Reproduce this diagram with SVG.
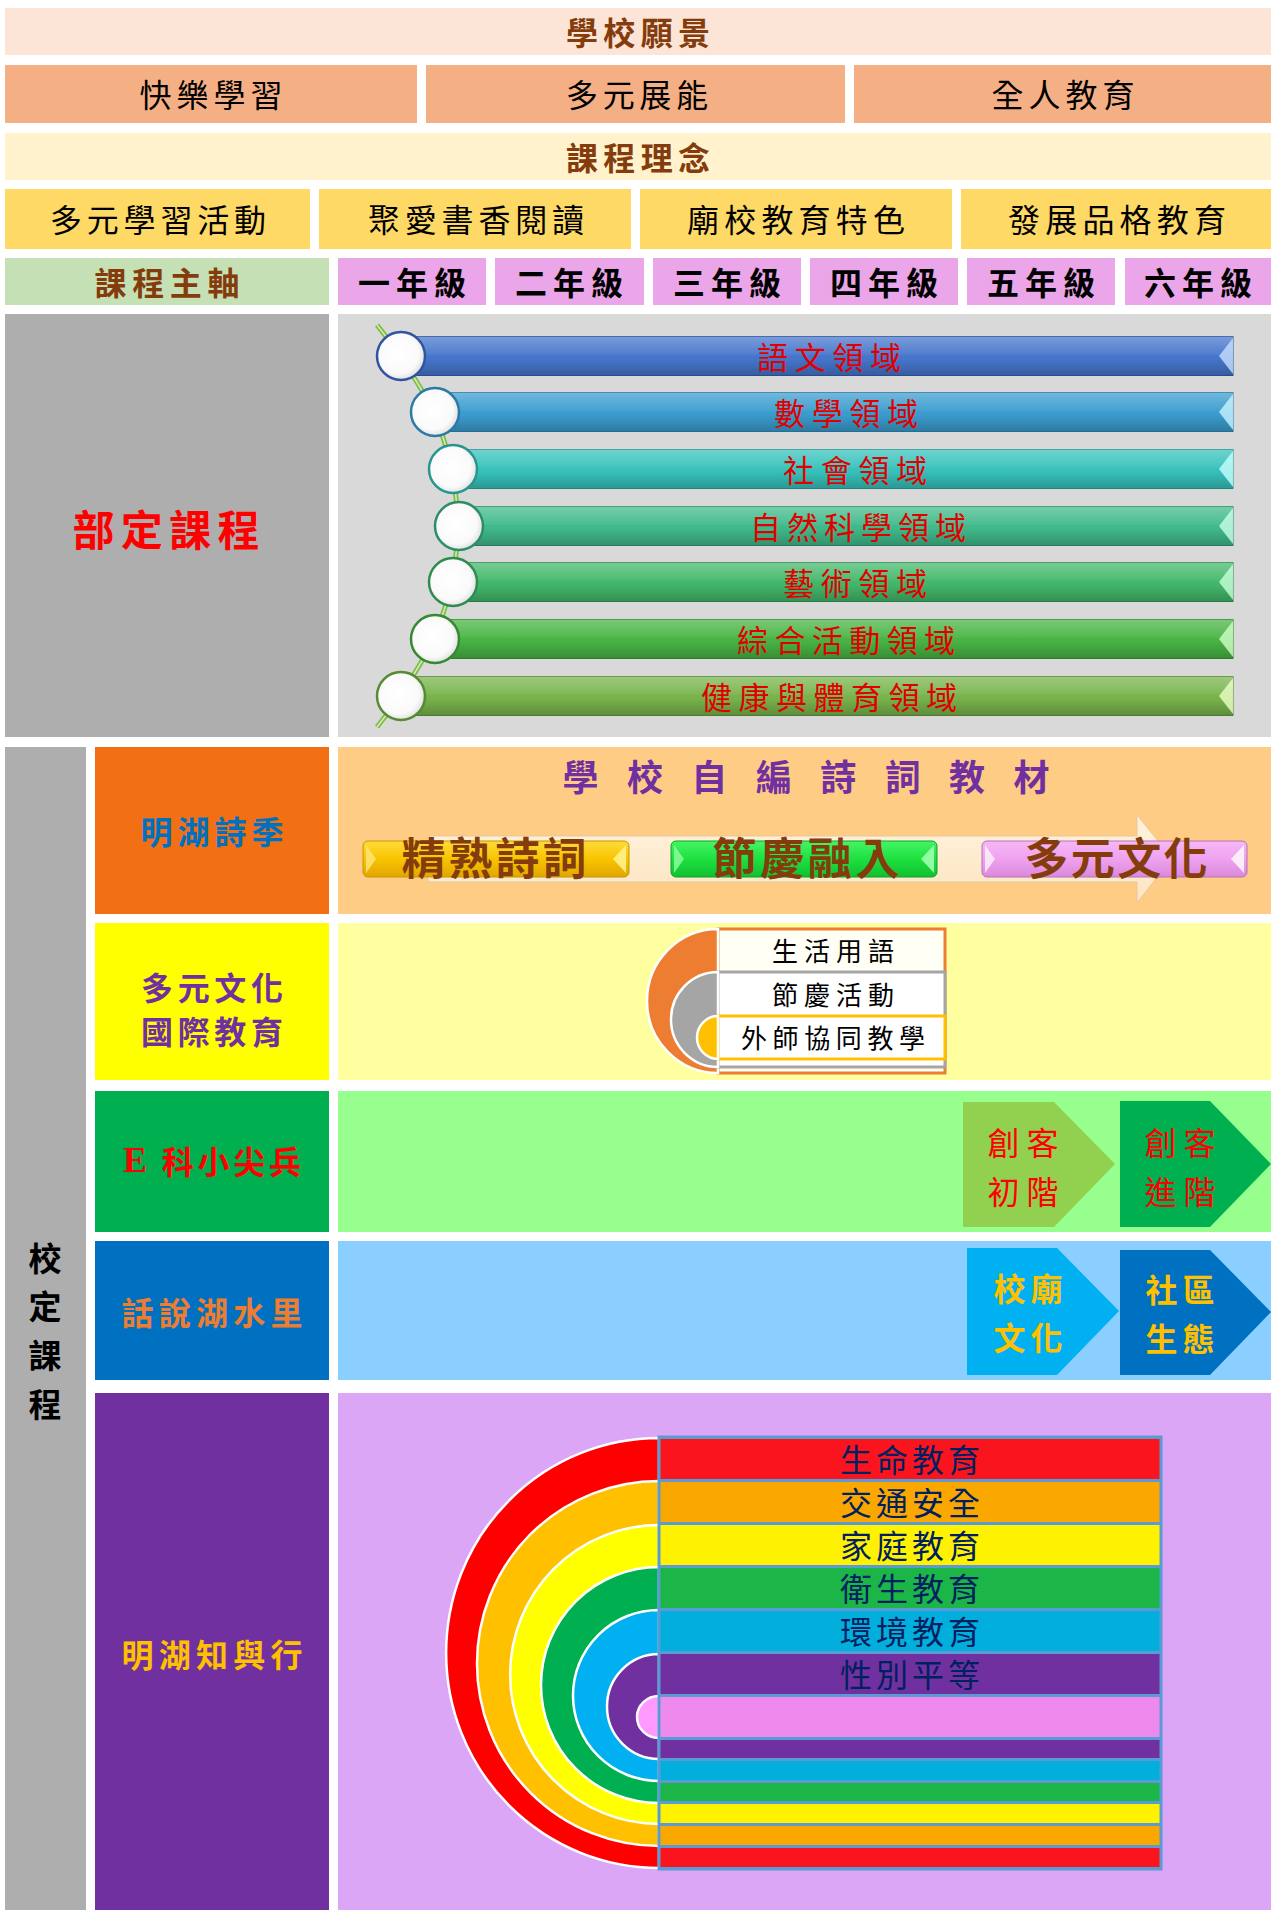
<svg xmlns="http://www.w3.org/2000/svg" width="1271" height="1910" viewBox="0 0 1271 1910">
<defs>
<style>
.t{font-family:"Noto Sans CJK TC","Noto Sans CJK SC",sans-serif;text-anchor:middle;dominant-baseline:central;}
.b{font-weight:bold;}
.hd{font-size:32px;}
.br{fill:#843C0C;}
.bk{fill:#000;}
.bt{font-size:31px;fill:#E00000;}
.ring{fill:url(#circ);stroke-width:2.5;}
.half{stroke:#fff;stroke-width:2.5;}
.stripe{stroke:#5B9BD5;stroke-width:2;}
.st{font-size:32px;fill:#002060;}
.lbl{font-size:32px;font-weight:bold;}
.chev{font-size:32px;}
</style>
<linearGradient id="gloss" x1="0" y1="0" x2="0" y2="1">
<stop offset="0" stop-color="#fff" stop-opacity="0.28"/>
<stop offset="0.45" stop-color="#fff" stop-opacity="0.06"/>
<stop offset="0.55" stop-color="#000" stop-opacity="0"/>
<stop offset="1" stop-color="#000" stop-opacity="0.22"/>
</linearGradient>
<radialGradient id="circ" cx="0.45" cy="0.45" r="0.6">
<stop offset="0" stop-color="#fff"/>
<stop offset="0.7" stop-color="#fafafa"/>
<stop offset="1" stop-color="#d8d8d8"/>
</radialGradient>
<linearGradient id="pillY" x1="0" y1="0" x2="0" y2="1">
<stop offset="0" stop-color="#FFDB3A"/><stop offset="0.5" stop-color="#F8C400"/><stop offset="1" stop-color="#E2A600"/>
</linearGradient>
<linearGradient id="pillG" x1="0" y1="0" x2="0" y2="1">
<stop offset="0" stop-color="#45F565"/><stop offset="0.5" stop-color="#1EE040"/><stop offset="1" stop-color="#10C030"/>
</linearGradient>
<linearGradient id="pillP" x1="0" y1="0" x2="0" y2="1">
<stop offset="0" stop-color="#F6B8F6"/><stop offset="0.5" stop-color="#EEA2EE"/><stop offset="1" stop-color="#DC88DC"/>
</linearGradient>
<linearGradient id="arrowG" x1="0" y1="0" x2="0" y2="1">
<stop offset="0" stop-color="#FFF3DE"/><stop offset="1" stop-color="#FCE4C0"/>
</linearGradient>
</defs>

<!-- Header rows -->
<g id="vision">
<rect x="5" y="8" width="1266" height="47" fill="#FCE4D6"/>
<text class="t b hd br" x="638" y="31" textLength="144" lengthAdjust="spacing">學校願景</text>
</g>
<g id="vision-1"><rect x="5" y="65" width="412" height="58" fill="#F4B084"/><text class="t hd bk" x="211" y="93" textLength="143" lengthAdjust="spacing">快樂學習</text></g>
<g id="vision-2"><rect x="426" y="65" width="419" height="58" fill="#F4B084"/><text class="t hd bk" x="637" y="93" textLength="142" lengthAdjust="spacing">多元展能</text></g>
<g id="vision-3"><rect x="854" y="65" width="417" height="58" fill="#F4B084"/><text class="t hd bk" x="1063" y="93" textLength="143" lengthAdjust="spacing">全人教育</text></g>

<g id="concept">
<rect x="5" y="133" width="1266" height="47" fill="#FFF2CC"/>
<text class="t b hd br" x="638" y="156" textLength="144" lengthAdjust="spacing">課程理念</text>
</g>
<g id="concept-1"><rect x="5" y="189" width="305" height="60" fill="#FFD966"/><text class="t hd bk" x="158" y="218" textLength="216" lengthAdjust="spacing">多元學習活動</text></g>
<g id="concept-2"><rect x="319" y="189" width="312" height="60" fill="#FFD966"/><text class="t hd bk" x="476" y="218" textLength="216" lengthAdjust="spacing">聚愛書香閱讀</text></g>
<g id="concept-3"><rect x="640" y="189" width="312" height="60" fill="#FFD966"/><text class="t hd bk" x="796" y="218" textLength="218" lengthAdjust="spacing">廟校教育特色</text></g>
<g id="concept-4"><rect x="961" y="189" width="310" height="60" fill="#FFD966"/><text class="t hd bk" x="1117" y="218" textLength="218" lengthAdjust="spacing">發展品格教育</text></g>

<g id="axis"><rect x="5" y="258" width="324" height="47" fill="#C5E0B4"/><text class="t b hd br" x="167" y="281" textLength="145" lengthAdjust="spacing">課程主軸</text></g>
<g id="grade-1"><rect x="338" y="258" width="148" height="47" fill="#EAA6E8"/><text class="t b hd bk" x="412" y="281" textLength="108" lengthAdjust="spacing">一年級</text></g>
<g id="grade-2"><rect x="495" y="258" width="149" height="47" fill="#EAA6E8"/><text class="t b hd bk" x="569" y="281" textLength="108" lengthAdjust="spacing">二年級</text></g>
<g id="grade-3"><rect x="653" y="258" width="148" height="47" fill="#EAA6E8"/><text class="t b hd bk" x="727" y="281" textLength="108" lengthAdjust="spacing">三年級</text></g>
<g id="grade-4"><rect x="810" y="258" width="148" height="47" fill="#EAA6E8"/><text class="t b hd bk" x="884" y="281" textLength="108" lengthAdjust="spacing">四年級</text></g>
<g id="grade-5"><rect x="967" y="258" width="148" height="47" fill="#EAA6E8"/><text class="t b hd bk" x="1041" y="281" textLength="108" lengthAdjust="spacing">五年級</text></g>
<g id="grade-6"><rect x="1125" y="258" width="146" height="47" fill="#EAA6E8"/><text class="t b hd bk" x="1198" y="281" textLength="108" lengthAdjust="spacing">六年級</text></g>

<!-- 部定課程 -->
<g id="national">
<rect x="5" y="314" width="324" height="423" fill="#AEAEAE"/>
<text class="t b" x="166" y="527" font-size="42" fill="#FF0000" textLength="187" lengthAdjust="spacing">部定課程</text>
</g>
<rect id="national-panel" x="338" y="314" width="933" height="423" fill="#D9D9D9"/>

<g id="connectors">
<polyline points="377,325 401,356 435,412 453,469 459,526 453,582 435,639 401,696 377,727" fill="none" stroke="#7DBE45" stroke-width="5"/>
<polyline points="377,325 401,356 435,412 453,469 459,526 453,582 435,639 401,696 377,727" fill="none" stroke="#D4EABD" stroke-width="1.5"/>
</g>

<g id="bar-1">
<rect x="401" y="336.5" width="832" height="39" fill="#4676CC" stroke="#2F55A0" stroke-width="1"/>
<rect x="401" y="336.5" width="832" height="39" fill="url(#gloss)"/>
<polygon points="1233,338 1219,356 1233,374" fill="#C8E0FF" opacity="0.8"/>
<circle class="ring" cx="401" cy="356" r="24" stroke="#2F55A0"/>
<text class="t bt" x="829" y="355" textLength="144" lengthAdjust="spacing">語文領域</text>
</g>
<g id="bar-2">
<rect x="435" y="392.5" width="798" height="39" fill="#3A9DCF" stroke="#2A7AA5" stroke-width="1"/>
<rect x="435" y="392.5" width="798" height="39" fill="url(#gloss)"/>
<polygon points="1233,394 1219,412 1233,430" fill="#C8F4FF" opacity="0.8"/>
<circle class="ring" cx="435" cy="412" r="24" stroke="#2A7AA5"/>
<text class="t bt" x="846" y="411" textLength="144" lengthAdjust="spacing">數學領域</text>
</g>
<g id="bar-3">
<rect x="453" y="449.5" width="780" height="39" fill="#37C2BC" stroke="#26968F" stroke-width="1"/>
<rect x="453" y="449.5" width="780" height="39" fill="url(#gloss)"/>
<polygon points="1233,451 1219,469 1233,487" fill="#C8FFFF" opacity="0.8"/>
<circle class="ring" cx="453" cy="469" r="24" stroke="#26968F"/>
<text class="t bt" x="855" y="468" textLength="144" lengthAdjust="spacing">社會領域</text>
</g>
<g id="bar-4">
<rect x="459" y="506.5" width="774" height="39" fill="#40BA8A" stroke="#2C8E66" stroke-width="1"/>
<rect x="459" y="506.5" width="774" height="39" fill="url(#gloss)"/>
<polygon points="1233,508 1219,526 1233,544" fill="#C8FFE8" opacity="0.8"/>
<circle class="ring" cx="459" cy="526" r="24" stroke="#2C8E66"/>
<text class="t bt" x="858" y="525" textLength="216" lengthAdjust="spacing">自然科學領域</text>
</g>
<g id="bar-5">
<rect x="453" y="562.5" width="780" height="39" fill="#42B86A" stroke="#2E8C4E" stroke-width="1"/>
<rect x="453" y="562.5" width="780" height="39" fill="url(#gloss)"/>
<polygon points="1233,564 1219,582 1233,600" fill="#C8FFD8" opacity="0.8"/>
<circle class="ring" cx="453" cy="582" r="24" stroke="#2E8C4E"/>
<text class="t bt" x="855" y="581" textLength="144" lengthAdjust="spacing">藝術領域</text>
</g>
<g id="bar-6">
<rect x="435" y="619.5" width="798" height="39" fill="#48B444" stroke="#348A30" stroke-width="1"/>
<rect x="435" y="619.5" width="798" height="39" fill="url(#gloss)"/>
<polygon points="1233,621 1219,639 1233,657" fill="#D0FFC8" opacity="0.8"/>
<circle class="ring" cx="435" cy="639" r="24" stroke="#348A30"/>
<text class="t bt" x="846" y="638" textLength="218" lengthAdjust="spacing">綜合活動領域</text>
</g>
<g id="bar-7">
<rect x="401" y="676.5" width="832" height="39" fill="#78B44C" stroke="#568A34" stroke-width="1"/>
<rect x="401" y="676.5" width="832" height="39" fill="url(#gloss)"/>
<polygon points="1233,678 1219,696 1233,714" fill="#EEFFC8" opacity="0.8"/>
<circle class="ring" cx="401" cy="696" r="24" stroke="#568A34"/>
<text class="t bt" x="829" y="695" textLength="256" lengthAdjust="spacing">健康與體育領域</text>
</g>

<!-- 校定課程 -->
<g id="school">
<rect x="5" y="747" width="81" height="1163" fill="#AEAEAE"/>
<text class="t b" font-size="33" fill="#000"><tspan x="45" y="1257">校</tspan><tspan x="45" y="1305">定</tspan><tspan x="45" y="1354">課</tspan><tspan x="45" y="1403">程</tspan></text>
</g>

<!-- Row A -->
<g id="poetry">
<rect x="95" y="747" width="234" height="167" fill="#F36F13"/>
<text class="t lbl" x="212" y="830" fill="#0070C0" textLength="143" lengthAdjust="spacing">明湖詩季</text>
</g>
<g id="poetry-panel">
<rect x="338" y="747" width="933" height="167" fill="#FFCC86"/>
<text class="t b" x="806" y="775" font-size="36" fill="#7030A0" textLength="487" lengthAdjust="spacing">學 校 自 編 詩 詞 教 材</text>
<polygon points="428,836 1137,836 1137,815 1172,858 1137,903 1137,882 428,882" fill="url(#arrowG)" stroke="#E9C79A" stroke-width="1"/>
</g>
<g id="pill-1">
<rect x="363" y="841" width="266" height="36" rx="5" fill="url(#pillY)" stroke="#C99600" stroke-width="1"/>
<polygon points="366,845 376,859 366,873" fill="#FFE680" opacity="0.8"/>
<polygon points="626,845 613,859 626,873" fill="#FFF28A" opacity="0.9"/>
<text class="t b" x="494" y="856" font-size="44" fill="#843C0C" textLength="185" lengthAdjust="spacing">精熟詩詞</text>
</g>
<g id="pill-2">
<rect x="671" y="841" width="266" height="36" rx="5" fill="url(#pillG)" stroke="#12A02A" stroke-width="1"/>
<polygon points="674,845 684,859 674,873" fill="#90FFA0" opacity="0.8"/>
<polygon points="934,845 921,859 934,873" fill="#A0FFB0" opacity="0.9"/>
<text class="t b" x="806" y="856" font-size="44" fill="#843C0C" textLength="187" lengthAdjust="spacing">節慶融入</text>
</g>
<g id="pill-3">
<rect x="982" y="841" width="265" height="36" rx="5" fill="url(#pillP)" stroke="#B870B8" stroke-width="1"/>
<polygon points="985,845 995,859 985,873" fill="#FFFFFF" opacity="0.7"/>
<polygon points="1244,845 1231,859 1244,873" fill="#FFFFFF" opacity="0.8"/>
<text class="t b" x="1116" y="856" font-size="44" fill="#843C0C" textLength="183" lengthAdjust="spacing">多元文化</text>
</g>

<!-- Row B -->
<g id="intl">
<rect x="95" y="923" width="234" height="157" fill="#FFFF00"/>
<text class="t lbl" x="212" y="986" fill="#7030A0" textLength="142" lengthAdjust="spacing">多元文化</text>
<text class="t lbl" x="212" y="1030" fill="#7030A0" textLength="142" lengthAdjust="spacing">國際教育</text>
</g>
<rect id="intl-panel" x="338" y="923" width="933" height="157" fill="#FFFF9F"/>
<g id="intl-list">
<rect x="718" y="929" width="227" height="144" fill="#FFFFF6" stroke="#ED7D31" stroke-width="3"/>
<path class="half" d="M718,929 A71,72 0 0 0 718,1073 Z" fill="#ED7D31"/>
<rect x="718" y="972" width="227" height="95" fill="#FFFFFF" stroke="#A5A5A5" stroke-width="3"/>
<path class="half" d="M718,972 A47,47.5 0 0 0 718,1067 Z" fill="#A5A5A5"/>
<rect x="718" y="1016" width="227" height="43" fill="#FFFFFF" stroke="#FFC000" stroke-width="3"/>
<path class="half" d="M718,1016 A21,21.5 0 0 0 718,1059 Z" fill="#FFC000"/>
<text class="t" x="833" y="949" font-size="26" fill="#000" textLength="122" lengthAdjust="spacing">生活用語</text>
<text class="t" x="833" y="993" font-size="26" fill="#000" textLength="122" lengthAdjust="spacing">節慶活動</text>
<text class="t" x="833" y="1036" font-size="26" fill="#000" textLength="184" lengthAdjust="spacing">外師協同教學</text>
</g>

<!-- Row C -->
<g id="tech">
<rect x="95" y="1091" width="234" height="141" fill="#00B050"/>
<text class="t lbl" x="212" y="1160" fill="#FF0000" textLength="178" lengthAdjust="spacing"><tspan font-family="Liberation Serif, serif" font-size="36">E</tspan> 科小尖兵</text>
</g>
<rect id="tech-panel" x="338" y="1091" width="933" height="141" fill="#96FF8E"/>
<g id="maker-1">
<polygon points="963,1102 1054,1102 1115,1164 1054,1227 963,1227" fill="#92D050"/>
<text class="t chev" x="1023" y="1141" fill="#FF0000" textLength="71" lengthAdjust="spacing">創客</text>
<text class="t chev" x="1023" y="1190" fill="#FF0000" textLength="71" lengthAdjust="spacing">初階</text>
</g>
<g id="maker-2">
<polygon points="1120,1101 1210,1101 1271,1164 1210,1227 1120,1227" fill="#00B050"/>
<text class="t chev" x="1180" y="1141" fill="#FF0000" textLength="71" lengthAdjust="spacing">創客</text>
<text class="t chev" x="1180" y="1190" fill="#FF0000" textLength="71" lengthAdjust="spacing">進階</text>
</g>

<!-- Row D -->
<g id="village">
<rect x="95" y="1241" width="234" height="139" fill="#0070C0"/>
<text class="t lbl" x="212" y="1311" fill="#ED7D31" textLength="181" lengthAdjust="spacing">話說湖水里</text>
</g>
<rect id="village-panel" x="338" y="1241" width="933" height="139" fill="#8ACFFF"/>
<g id="temple">
<polygon points="967,1248 1057,1248 1119,1311 1057,1375 967,1375" fill="#00B0F0"/>
<text class="t chev b" x="1028" y="1287" fill="#FFC000" textLength="69" lengthAdjust="spacing">校廟</text>
<text class="t chev b" x="1028" y="1336" fill="#FFC000" textLength="69" lengthAdjust="spacing">文化</text>
</g>
<g id="ecology">
<polygon points="1120,1250 1210,1250 1271,1312 1210,1375 1120,1375" fill="#0070C0"/>
<text class="t chev b" x="1180" y="1288" fill="#FFC000" textLength="69" lengthAdjust="spacing">社區</text>
<text class="t chev b" x="1180" y="1337" fill="#FFC000" textLength="69" lengthAdjust="spacing">生態</text>
</g>

<!-- Row E -->
<g id="practice">
<rect x="95" y="1393" width="234" height="517" fill="#7030A0"/>
<text class="t lbl" x="212" y="1653" fill="#FFC000" textLength="181" lengthAdjust="spacing">明湖知與行</text>
</g>
<rect id="practice-panel" x="338" y="1393" width="933" height="517" fill="#DBA6F6"/>
<g id="rainbow">
<path class="half" d="M659,1438 A213,215 0 0 0 659,1868 Z" fill="#FF0000"/>
<path class="half" d="M659,1481 A182,182.5 0 0 0 659,1846 Z" fill="#FFC000"/>
<path class="half" d="M659,1525 A149,149.5 0 0 0 659,1824 Z" fill="#FFFF00"/>
<path class="half" d="M659,1567 A118,118 0 0 0 659,1803 Z" fill="#00B050"/>
<path class="half" d="M659,1610 A86,85.5 0 0 0 659,1781 Z" fill="#00B0F0"/>
<path class="half" d="M659,1654 A52,52.5 0 0 0 659,1759 Z" fill="#7030A0"/>
<path class="half" d="M659,1696 A22,21 0 0 0 659,1738 Z" fill="#FF99FF"/>
<rect class="stripe" x="659" y="1438" width="502" height="42" fill="#FA141E"/>
<rect class="stripe" x="659" y="1481" width="502" height="42" fill="#FAA800"/>
<rect class="stripe" x="659" y="1524" width="502" height="42" fill="#FFF200"/>
<rect class="stripe" x="659" y="1567" width="502" height="42" fill="#1BB548"/>
<rect class="stripe" x="659" y="1610" width="502" height="42" fill="#02AEDC"/>
<rect class="stripe" x="659" y="1653" width="502" height="42" fill="#7030A0"/>
<rect class="stripe" x="659" y="1696" width="502" height="42" fill="#EE8AEE"/>
<rect class="stripe" x="659" y="1739" width="502" height="20" fill="#7030A0"/>
<rect class="stripe" x="659" y="1760" width="502" height="21" fill="#02AEDC"/>
<rect class="stripe" x="659" y="1782" width="502" height="20" fill="#1BB548"/>
<rect class="stripe" x="659" y="1803" width="502" height="21" fill="#FFF200"/>
<rect class="stripe" x="659" y="1825" width="502" height="21" fill="#FAA800"/>
<rect class="stripe" x="659" y="1847" width="502" height="21" fill="#FA141E"/>
<rect x="659" y="1437" width="502" height="432" fill="none" stroke="#5B9BD5" stroke-width="3"/>
<text class="t st" x="910" y="1458" textLength="140" lengthAdjust="spacing">生命教育</text>
<text class="t st" x="910" y="1501" textLength="140" lengthAdjust="spacing">交通安全</text>
<text class="t st" x="910" y="1544" textLength="140" lengthAdjust="spacing">家庭教育</text>
<text class="t st" x="910" y="1587" textLength="140" lengthAdjust="spacing">衛生教育</text>
<text class="t st" x="910" y="1630" textLength="140" lengthAdjust="spacing">環境教育</text>
<text class="t st" x="910" y="1673" textLength="140" lengthAdjust="spacing">性別平等</text>
</g>
</svg>
